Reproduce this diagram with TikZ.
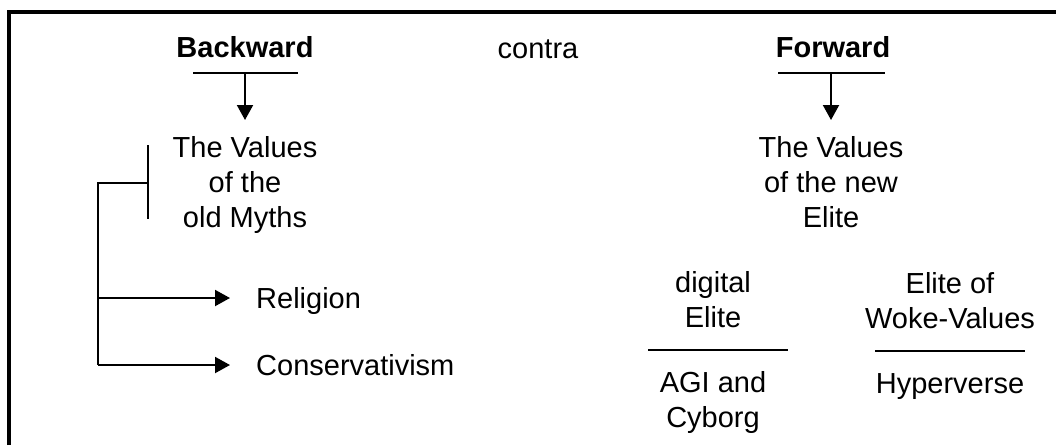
\documentclass[tikz,border=0pt]{standalone}
\usepackage{fontspec}
\setmainfont{Liberation Sans}
\usetikzlibrary{arrows.meta}
\begin{document}
\begin{tikzpicture}[x=1pt,y=-1pt,
  txt/.style={inner sep=0pt, font=\fontsize{29}{35}\selectfont},
  boldtxt/.style={inner sep=0pt, font=\fontsize{29}{35}\selectfont\bfseries},
  blk/.style={txt, align=center, anchor=north},
  ln/.style={line width=2pt},
  arr/.style={line width=2pt, -{Triangle[length=15pt,width=16pt]}},
  frame/.style={line width=4pt}]
\useasboundingbox (0,0) rectangle (1056,445);
\draw[frame] (9.3,445) -- (9.3,12) -- (1056,12);

% headings
\node[boldtxt, anchor=base] (back) at (245,57) {Backward};
\node[txt, anchor=base] (contra) at (538,58) {contra};
\node[boldtxt, anchor=base] (fwd) at (833,57) {Forward};

% underlines
\coordinate (bul) at (193,72.5);
\coordinate (bur) at (298,72.5);
\coordinate (bm) at (245,72.5);
\coordinate (ful) at (778,72.5);
\coordinate (fur) at (885,72.5);
\coordinate (fm) at (831,72.5);
\draw[ln] (bul) -- (bur);
\draw[ln] (ful) -- (fur);

% value blocks
\node[blk] (oldv) at (245,136) {The Values\\of the\\old Myths};
\node[blk] (newv) at (831,136) {The Values\\of the new\\Elite};
\draw[arr] (bm) -- ([yshift=16pt]oldv.north);
\draw[arr] (fm) -- ([yshift=16pt]newv.north);

% left branch
\node[txt, anchor=base west] (rel) at (256,308) {Religion};
\node[txt, anchor=base west] (cons) at (256,375) {Conservativism};
\coordinate (bt) at (148,145);
\coordinate (bb) at (148,219);
\coordinate (bj) at (148,183);
\coordinate (bl) at (98,183);
\coordinate (b1) at (98,298);
\coordinate (b2) at (98,365);
\draw[ln] (bt) -- (bb);
\draw[ln] (bj) -- (bl) -- (b2);
\draw[arr, shorten >=26pt] (b1) -- (b1 -| rel.west);
\draw[arr, shorten >=26pt] (b2) -- (b2 -| cons.west);

% right branch
\node[blk] (dig) at (713,271) {digital\\Elite};
\node[blk] (agi) at (713,371) {AGI and\\Cyborg};
\node[blk] (woke) at (950,272) {Elite of\\Woke-Values};
\node[txt, anchor=base] (hyp) at (950,393) {Hyperverse};
\coordinate (dl) at (648,350);
\coordinate (dr) at (788,350);
\coordinate (wl) at (875,351);
\coordinate (wr) at (1025,351);
\draw[ln] (dl) -- (dr);
\draw[ln] (wl) -- (wr);
\end{tikzpicture}
\end{document}
